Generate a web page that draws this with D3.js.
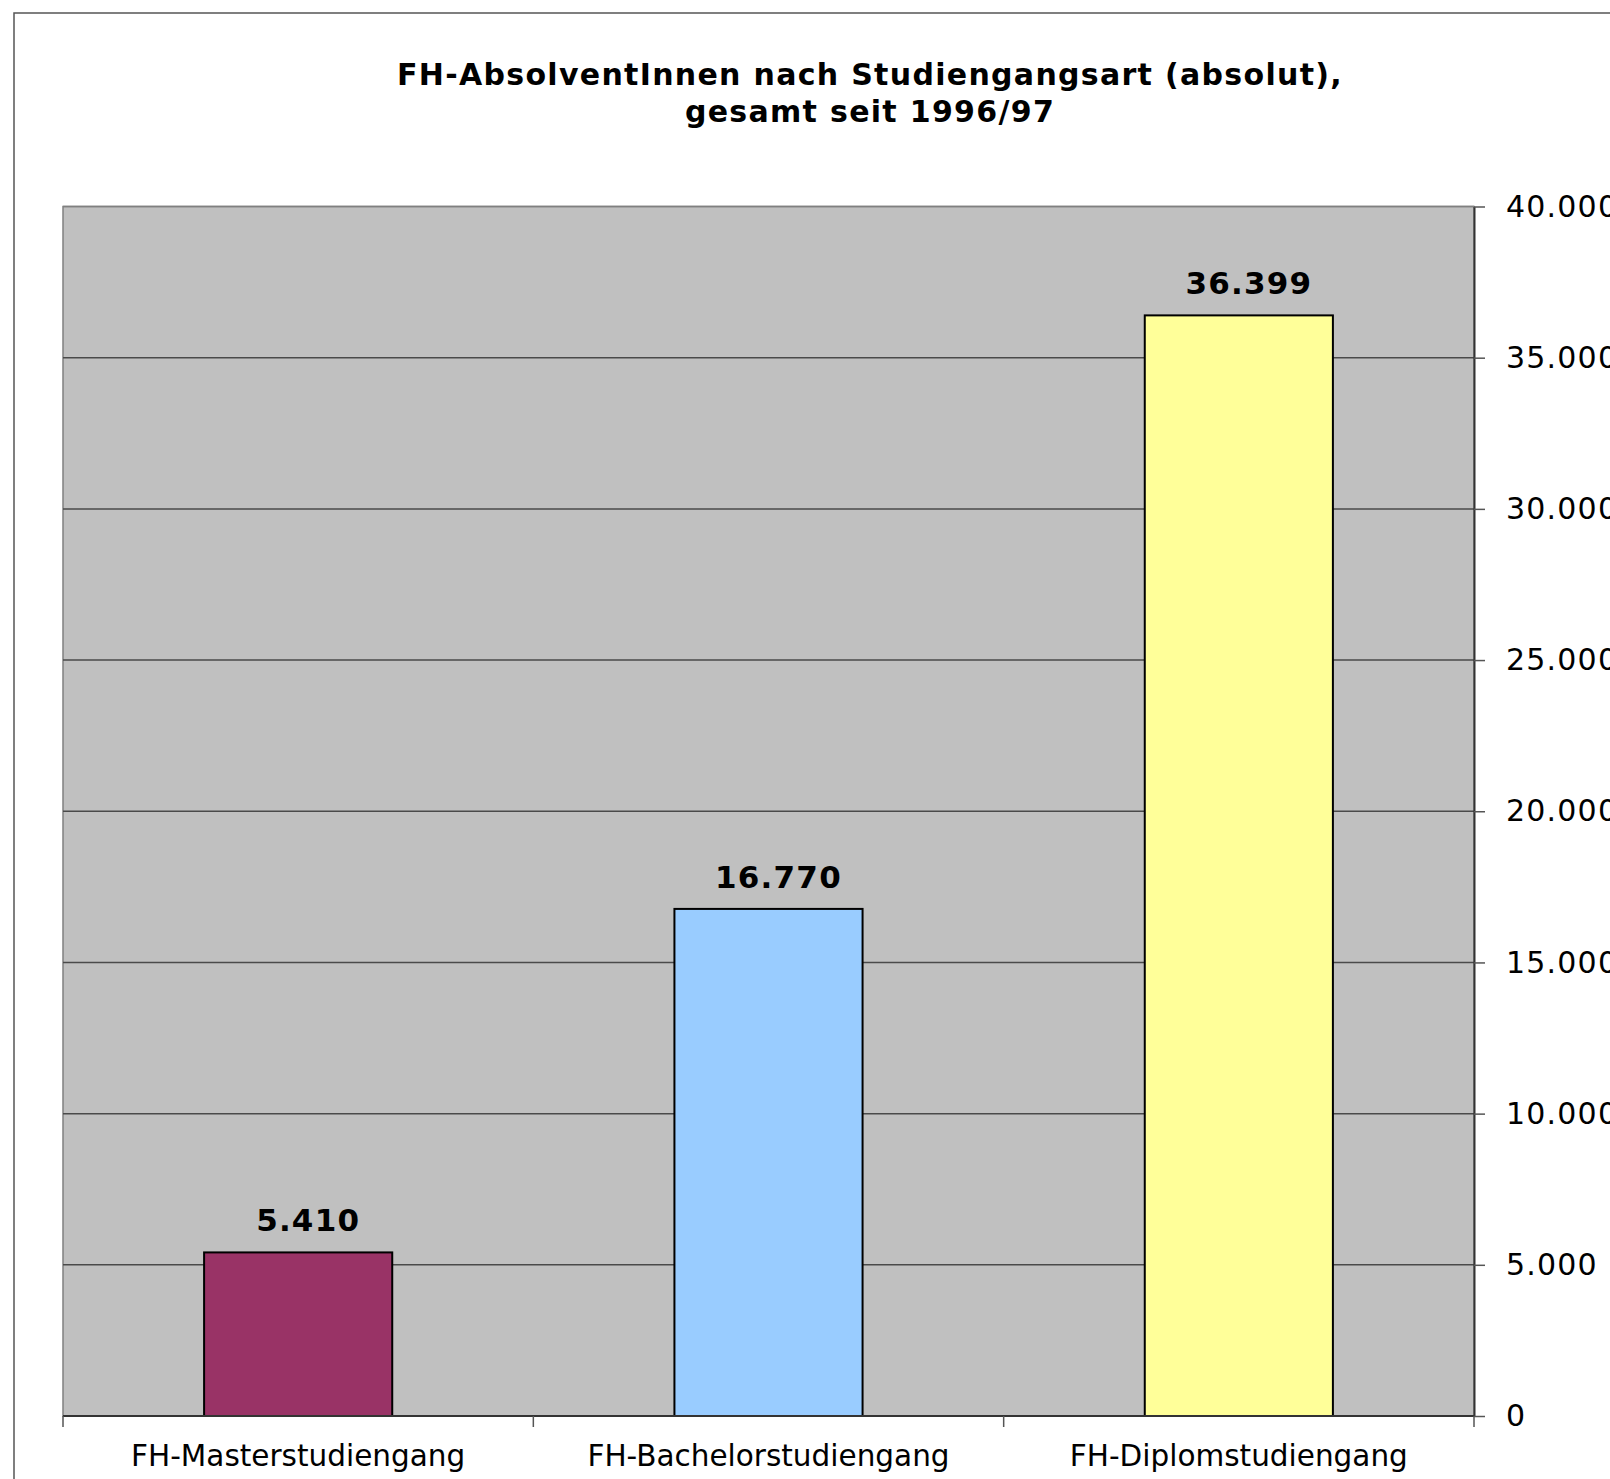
<!DOCTYPE html>
<html>
<head>
<meta charset="utf-8">
<script src="https://cdn.jsdelivr.net/npm/d3@7"></script>
<style>
  html, body { margin: 0; padding: 0; background: #fff; }
  svg { display: block; }
  text { font-family: "DejaVu Sans", Verdana, sans-serif; }
</style>
</head>
<body>
<svg id="chart" width="1610" height="1479"></svg>
<script>
const titleLines = ["FH-AbsolventInnen nach Studiengangsart (absolut),", "gesamt seit 1996/97"];
const categories = ["FH-Masterstudiengang", "FH-Bachelorstudiengang", "FH-Diplomstudiengang"];
const values = [5410, 16770, 36399];
const colors = ["#993366", "#99ccff", "#ffff99"];
const yTicks = [0, 5000, 10000, 15000, 20000, 25000, 30000, 35000, 40000];
const yMax = 40000;

const de = d3.formatLocale({decimal: ",", thousands: ".", grouping: [3], currency: ["", " €"]});
const fmt = de.format(",d");

const svg = d3.select("#chart");
const W = 1610, H = 1479;
const plot = {left: 63, right: 1474, top: 206.5, bottom: 1416};

svg.append("rect").attr("width", W).attr("height", H).attr("fill", "#fff");
// outer chart border (extends beyond the visible area)
svg.append("rect").attr("x", 14).attr("y", 13).attr("width", 1800).attr("height", 1600)
  .attr("fill", "none").attr("stroke", "#555").attr("stroke-width", 1.5);

// title
const title = svg.append("text").attr("text-anchor", "middle")
  .attr("font-weight", "bold").attr("font-size", 30).attr("letter-spacing", 1.3).attr("fill", "#000");
title.selectAll("tspan").data(titleLines).join("tspan")
  .attr("x", 870).attr("y", (d, i) => 85 + i * 37).text(d => d);

const x = d3.scaleBand().domain(categories).range([plot.left, plot.right]).padding(0);
const y = d3.scaleLinear().domain([0, yMax]).range([plot.bottom, plot.top]);

// plot background
svg.append("rect").attr("x", plot.left).attr("y", plot.top)
  .attr("width", plot.right - plot.left).attr("height", plot.bottom - plot.top)
  .attr("fill", "#c0c0c0").attr("stroke", "#808080").attr("stroke-width", 1.5);

// gridlines
svg.append("g").selectAll("line").data(yTicks.filter(t => t > 0)).join("line")
  .attr("x1", plot.left).attr("x2", plot.right)
  .attr("y1", d => y(d)).attr("y2", d => y(d))
  .attr("stroke", d => d === yMax ? "#808080" : "#4a4a4a").attr("stroke-width", 1.5);

// bars
const bw = x.bandwidth() * 0.4;
svg.append("g").selectAll("rect").data(categories).join("rect")
  .attr("x", d => x(d) + (x.bandwidth() - bw) / 2)
  .attr("y", (d, i) => y(values[i]))
  .attr("width", bw)
  .attr("height", (d, i) => y(0) - y(values[i]))
  .attr("fill", (d, i) => colors[i])
  .attr("stroke", "#000").attr("stroke-width", 2);

// value labels
svg.append("g").selectAll("text").data(categories).join("text")
  .attr("x", d => x(d) + x.bandwidth() / 2 + 10)
  .attr("y", (d, i) => y(values[i]) - 21)
  .attr("text-anchor", "middle").attr("font-weight", "bold").attr("font-size", 31)
  .attr("letter-spacing", 1.2)
  .attr("fill", "#000")
  .text((d, i) => fmt(values[i]));

// right axis
const yAxis = svg.append("g").attr("transform", `translate(${plot.right},0)`)
  .call(d3.axisRight(y).tickValues(yTicks).tickFormat(fmt).tickSize(11).tickPadding(21).tickSizeOuter(0));
yAxis.select(".domain").attr("stroke", "#333").attr("stroke-width", 2);
yAxis.selectAll(".tick line").attr("stroke", "#555").attr("stroke-width", 1.5);
yAxis.selectAll(".tick text").attr("font-size", 30).attr("letter-spacing", 1.2).attr("fill", "#000")
  .attr("font-family", "\"DejaVu Sans\", Verdana, sans-serif");

// bottom axis
const xg = svg.append("g");
xg.append("line").attr("x1", plot.left).attr("x2", plot.right)
  .attr("y1", plot.bottom).attr("y2", plot.bottom).attr("stroke", "#333").attr("stroke-width", 2);
const edges = categories.map(c => x(c)).concat([x.range()[1]]);
xg.selectAll("line.tk").data(edges).join("line").attr("class", "tk")
  .attr("x1", d => d).attr("x2", d => d)
  .attr("y1", plot.bottom).attr("y2", plot.bottom + 11)
  .attr("stroke", "#555").attr("stroke-width", 1.5);
xg.selectAll("text").data(categories).join("text")
  .attr("x", d => x(d) + x.bandwidth() / 2)
  .attr("y", 1466)
  .attr("text-anchor", "middle").attr("font-size", 29.5).attr("fill", "#000")
  .text(d => d);
</script>
</body>
</html>
